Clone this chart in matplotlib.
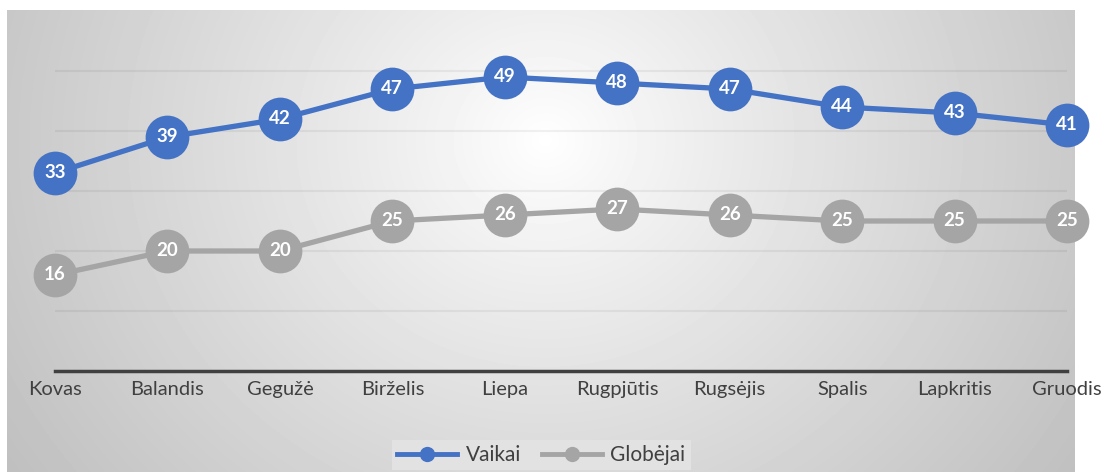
import numpy as np
import matplotlib
matplotlib.use("Agg")
from matplotlib import pyplot as plt
from matplotlib.lines import Line2D

months = ["Kovas", "Balandis", "Gegužė", "Birželis", "Liepa",
          "Rugpjūtis", "Rugsėjis", "Spalis", "Lapkritis", "Gruodis"]
vaikai = [33, 39, 42, 47, 49, 48, 47, 44, 43, 41]
globejai = [16, 20, 20, 25, 26, 27, 26, 25, 25, 25]

blue = "#4472C4"
grey = "#A5A5A5"
text_col = "#404040"

plt.rcParams["font.family"] = ["Lato", "DejaVu Sans"]

W, H = 1105, 472
fig = plt.figure(figsize=(W / 100, H / 100), dpi=100)
fig.patch.set_facecolor("white")

# radial gradient panel
bg = fig.add_axes([7 / W, 0, 1068 / W, 462 / H], zorder=-5)
yy, xx = np.mgrid[0:462, 0:1068]
d = np.hypot(xx - 538, (yy - 130) * 1.1)
v = 1 - 0.25 * (d / d.max()) ** 0.9
bg.imshow(v, cmap="gray", vmin=0, vmax=1, aspect="auto", interpolation="bilinear")
bg.axis("off")

ax = fig.add_axes([55 / W, (H - 371) / H, 1012 / W, 360 / H])
ax.set_facecolor("none")
x = np.arange(len(months))
ax.set_xlim(0, len(months) - 1)
ax.set_ylim(0, 60)

for yv in range(10, 60, 10):
    ax.axhline(yv, color="black", alpha=0.055, lw=1.5, zorder=0)

ax.plot(x, globejai, color=grey, lw=3.8, marker="o", markersize=31.5,
        markeredgewidth=0, zorder=3, clip_on=False)
ax.plot(x, vaikai, color=blue, lw=3.8, marker="o", markersize=31.5,
        markeredgewidth=0, zorder=3, clip_on=False)

for xi, val in zip(x, vaikai):
    ax.text(xi, val, str(val), color="white", fontsize=13.5, fontweight="bold",
            ha="center", va="center", zorder=5)
for xi, val in zip(x, globejai):
    ax.text(xi, val, str(val), color="white", fontsize=13.5, fontweight="bold",
            ha="center", va="center", zorder=5)

for s in ["top", "right", "left"]:
    ax.spines[s].set_visible(False)
ax.spines["bottom"].set_color(text_col)
ax.spines["bottom"].set_linewidth(2.5)
ax.set_yticks([])
ax.set_xticks(x)
ax.set_xticklabels(months, fontsize=14.5, color=text_col)
ax.tick_params(axis="x", length=0, pad=7)

handles = [
    Line2D([0], [0], color=blue, lw=3.5, marker="o", markersize=11, markeredgewidth=0),
    Line2D([0], [0], color=grey, lw=3.5, marker="o", markersize=11, markeredgewidth=0),
]
leg = fig.legend(handles, ["Vaikai", "Globėjai"], loc="center",
                 bbox_to_anchor=(541 / W, (H - 455) / H), ncol=2, fontsize=15,
                 frameon=True, fancybox=False, handlelength=2.9,
                 columnspacing=1.0, handletextpad=0.4, borderpad=0.25)
leg.get_frame().set_facecolor("#e2e2e2")
leg.get_frame().set_edgecolor("none")
leg.get_frame().set_alpha(1)
for t in leg.get_texts():
    t.set_color(text_col)

fig.savefig("out.png", dpi=100)
